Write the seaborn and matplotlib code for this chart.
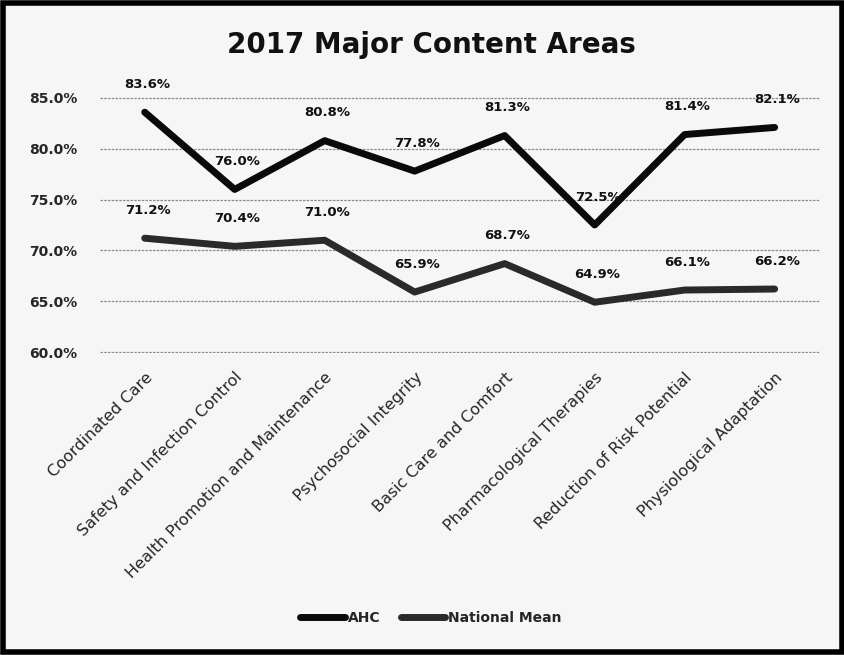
import matplotlib
matplotlib.use("Agg")
import matplotlib.pyplot as plt
import seaborn as sns
import pandas as pd
from matplotlib.patches import Rectangle
from matplotlib.lines import Line2D
from matplotlib.ticker import FuncFormatter

categories = ["Coordinated Care", "Safety and Infection Control",
              "Health Promotion and Maintenance", "Psychosocial Integrity",
              "Basic Care and Comfort", "Pharmacological Therapies",
              "Reduction of Risk Potential", "Physiological Adaptation"]
ahc = [83.6, 76.0, 80.8, 77.8, 81.3, 72.5, 81.4, 82.1]
national_mean = [71.2, 70.4, 71.0, 65.9, 68.7, 64.9, 66.1, 66.2]
y_ticks = [60, 65, 70, 75, 80, 85]

sns.set_theme(style="white")
plt.rcParams['font.family'] = ['DejaVu Sans']

df = pd.DataFrame({
    "Category": categories * 2,
    "x": list(range(len(categories))) * 2,
    "Value": ahc + national_mean,
    "Series": ["AHC"] * len(categories) + ["National Mean"] * len(categories),
})

fig = plt.figure(figsize=(8.45, 6.55), dpi=100, facecolor="#f6f6f6")
ax = fig.add_axes([0.118, 0.461, 0.852, 0.391])
ax.set_facecolor("#f6f6f6")

palette = {"AHC": "#0a0a0a", "National Mean": "#2a2a2a"}
sns.lineplot(data=df, x="x", y="Value", hue="Series", palette=palette,
             linewidth=5, ax=ax, legend=False, sort=False)

for xi, v in enumerate(ahc):
    ax.annotate(f"{v:.1f}%", (xi, v), xytext=(2, 20), textcoords="offset points",
                ha="center", va="center", fontsize=9.5, fontweight="bold",
                color="#111111", annotation_clip=False)
for xi, v in enumerate(national_mean):
    ax.annotate(f"{v:.1f}%", (xi, v), xytext=(2, 20), textcoords="offset points",
                ha="center", va="center", fontsize=9.5, fontweight="bold",
                color="#111111", annotation_clip=False)

ax.set_xlim(-0.5, len(categories) - 0.5)
ax.set_ylim(59.9, 85.1)
ax.set_yticks(y_ticks)
ax.yaxis.set_major_formatter(FuncFormatter(lambda v, p: f"{v:.1f}%"))
ax.set_xticks(range(len(categories)))
ax.set_xticklabels(categories, rotation=45, ha="right", rotation_mode="anchor",
                   fontsize=11.5)
ax.tick_params(axis="y", labelsize=10, pad=16, length=0)
ax.tick_params(axis="x", length=0, pad=12)
for lbl in ax.get_yticklabels():
    lbl.set_fontweight("bold")
ax.set_xlabel("")
ax.set_ylabel("")
ax.grid(axis="y", color="#8a8a8a", linewidth=0.9, linestyle=(0, (2, 1)))
ax.set_axisbelow(True)
for s in ax.spines.values():
    s.set_visible(False)

fig.text(0.51, 0.932, "2017 Major Content Areas", ha="center", va="center",
         fontsize=20, fontweight="bold", color="#111111")

handles = [Line2D([], [], color=palette["AHC"], lw=5),
           Line2D([], [], color=palette["National Mean"], lw=5)]
fig.legend(handles, ["AHC", "National Mean"], loc="center", ncol=2,
           bbox_to_anchor=(0.51, 0.056), frameon=False,
           handlelength=3.2, columnspacing=1.5, handletextpad=0.2,
           prop={"weight": "bold", "size": 10})

fig.patches.append(Rectangle((0.004, 0.004), 0.992, 0.992, transform=fig.transFigure,
                             fill=False, edgecolor="black", linewidth=4))

fig.savefig("out.png", dpi=100, facecolor=fig.get_facecolor())
